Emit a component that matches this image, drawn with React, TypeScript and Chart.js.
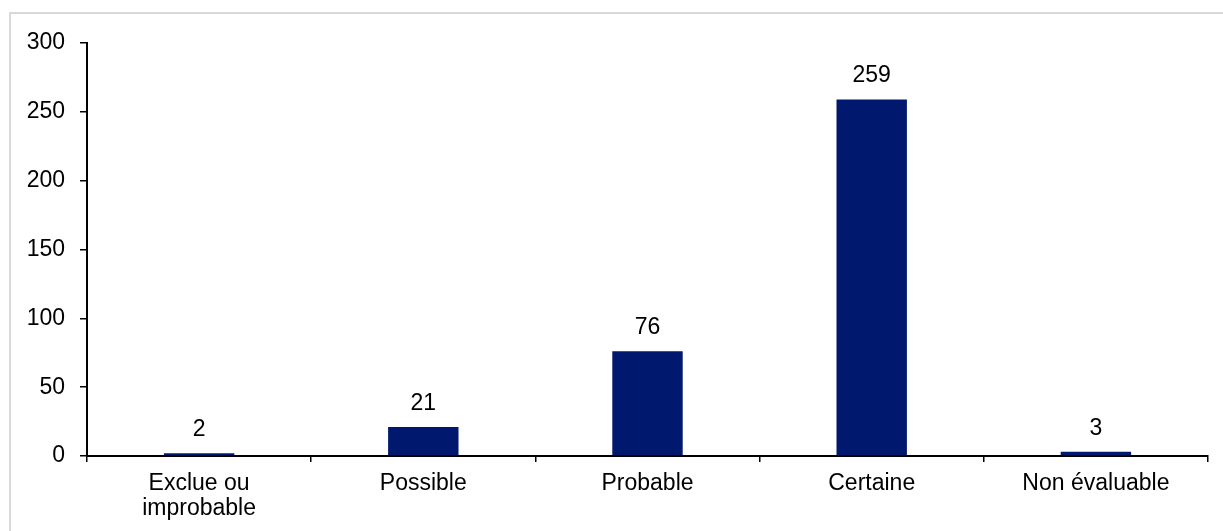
import React, { useEffect, useRef } from "react";
import { Chart, registerables } from "chart.js";

Chart.register(...registerables);

const categories: (string | string[])[] = [
  ["Exclue ou", "improbable"],
  "Possible",
  "Probable",
  "Certaine",
  "Non évaluable",
];
const values = [2, 21, 76, 259, 3];
const yMin = 0;
const yMax = 300;
const yStep = 50;

const FONT = '"Liberation Sans", Arial, Helvetica, sans-serif';
const FONT_SIZE = 23;

const valueLabels = {
  id: "valueLabels",
  afterDatasetsDraw(chart: any) {
    const ctx = chart.ctx;
    const meta = chart.getDatasetMeta(0);
    ctx.save();
    ctx.font = `${FONT_SIZE}px ${FONT}`;
    ctx.fillStyle = "#000000";
    ctx.textAlign = "center";
    ctx.textBaseline = "alphabetic";
    meta.data.forEach((bar: any, i: number) => {
      ctx.fillText(String(values[i]), bar.x, bar.y - 17);
    });
    ctx.restore();
  },
};

export default function App() {
  const canvasRef = useRef<HTMLCanvasElement | null>(null);

  useEffect(() => {
    if (!canvasRef.current) return;
    const chart = new Chart(canvasRef.current, {
      type: "bar",
      data: {
        labels: categories as any,
        datasets: [
          {
            data: values,
            backgroundColor: "#00186E",
            borderWidth: 0,
            barPercentage: 0.314,
            categoryPercentage: 1,
          },
        ],
      },
      options: {
        responsive: false,
        animation: false,
        devicePixelRatio: 1,
        layout: { padding: { top: 43, right: 15, left: 0, bottom: 0 } },
        plugins: {
          legend: { display: false },
          tooltip: { enabled: false },
          title: { display: false },
        },
        scales: {
          x: {
            afterFit: (scale: any) => {
              scale.height = 75;
            },
            grid: {
              display: true,
              offset: true,
              drawOnChartArea: false,
              drawTicks: true,
              tickLength: 6,
              color: "#000000",
              lineWidth: 1.5,
            },
            border: { display: true, color: "#000000", width: 2 },
            ticks: {
              color: "#000000",
              font: { family: FONT, size: FONT_SIZE, lineHeight: 1.1 },
              padding: 9,
              maxRotation: 0,
              minRotation: 0,
              autoSkip: false,
            },
          },
          y: {
            min: yMin,
            max: yMax,
            afterFit: (scale: any) => {
              scale.width = 87;
            },
            grid: {
              display: true,
              drawOnChartArea: false,
              drawTicks: true,
              tickLength: 7,
              color: "#000000",
              lineWidth: 1.5,
            },
            border: { display: true, color: "#000000", width: 2 },
            ticks: {
              stepSize: yStep,
              color: "#000000",
              font: { family: FONT, size: FONT_SIZE },
              padding: 15,
            },
          },
        },
      },
      plugins: [valueLabels],
    });
    return () => chart.destroy();
  }, []);

  return (
    <div
      style={{
        position: "fixed",
        left: 0,
        top: 0,
        width: "100vw",
        height: "100vh",
        overflow: "hidden",
        background: "#ffffff",
      }}
    >
      <div
        style={{
          position: "absolute",
          left: 9,
          top: 12,
          width: 3000,
          height: 3000,
          borderLeft: "2px solid #d9d9d9",
          borderTop: "2px solid #d9d9d9",
        }}
      />
      <canvas
        ref={canvasRef}
        width={1223}
        height={531}
        style={{ position: "absolute", left: 0, top: 0, width: 1223, height: 531 }}
      />
    </div>
  );
}
